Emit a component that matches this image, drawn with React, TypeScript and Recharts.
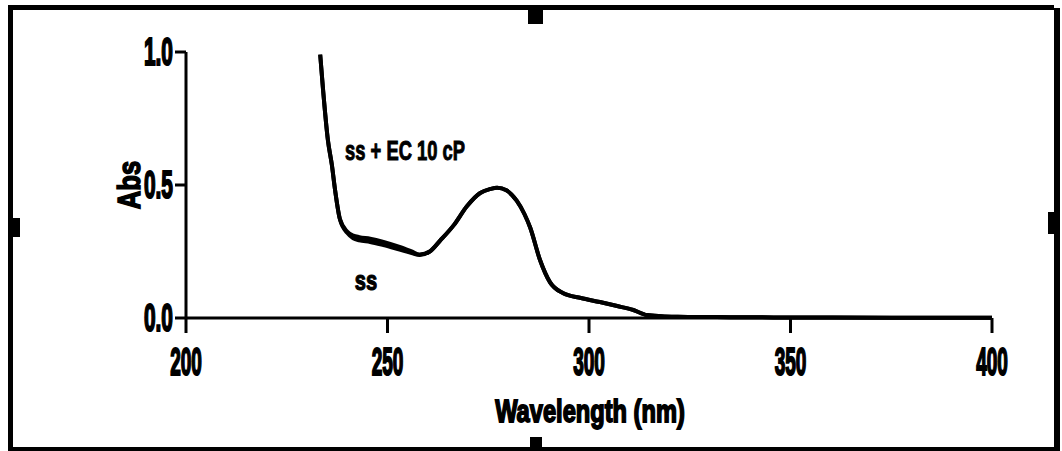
import React from "react";
import { Line, LineChart, XAxis, YAxis } from "recharts";

// Wavelength samples (nm).
const wavelengths = [
  233.3, 234, 235.2, 236.2, 237, 238.2, 240, 241.5, 243, 245.7, 249, 253, 256, 258, 260.5, 263,
  266.5, 269.7, 273, 275.5, 277.2, 279.5, 282.1, 284, 285.4, 287.8, 290.3, 293.5, 298, 302.7,
  307, 311, 314.4, 318, 322, 327, 335, 350, 375, 400,
];
const absSS = [
  0.99, 0.86, 0.67, 0.575, 0.48, 0.37, 0.32, 0.3, 0.292, 0.286, 0.274, 0.257, 0.244, 0.237, 0.25,
  0.29, 0.35, 0.42, 0.47, 0.485, 0.49, 0.48, 0.44, 0.39, 0.34, 0.22, 0.135, 0.094, 0.075, 0.06,
  0.045, 0.03, 0.011, 0.007, 0.005, 0.004, 0.003, 0.002, 0.001, 0.001,
];
const absSSEC = [
  0.99, 0.86, 0.67, 0.575, 0.48, 0.372, 0.325, 0.31, 0.304, 0.298, 0.286, 0.267, 0.25, 0.239, 0.25,
  0.29, 0.35, 0.42, 0.47, 0.485, 0.49, 0.48, 0.44, 0.39, 0.34, 0.22, 0.135, 0.094, 0.075, 0.06,
  0.045, 0.03, 0.011, 0.007, 0.005, 0.004, 0.003, 0.002, 0.001, 0.001,
];
const xTicks = [200, 250, 300, 350, 400];
const yTicks = [0, 0.5, 1];

const data = wavelengths.map((w, i) => ({ w, ss: absSS[i], ssec: absSSEC[i] }));

const FONT = "'Liberation Sans', Arial, sans-serif";

// Scanned figure uses a heavy condensed face; squeeze bold Liberation Sans and
// stroke it a little so it reads as thick as the photocopy.
function CondensedText({ x, y, children, size, sx, anchor = "middle", rotate = 0, weight = 1.6 }: any) {
  return (
    <text
      transform={`translate(${x},${y}) rotate(${rotate}) scale(${sx},1)`}
      textAnchor={anchor}
      fontFamily={FONT}
      fontWeight="bold"
      fontSize={size}
      fill="#000"
      stroke="#000"
      strokeWidth={weight}
    >
      {children}
    </text>
  );
}

function XTick({ x, y, payload }: any) {
  return (
    <CondensedText x={x} y={y + 40} size={38} sx={0.5} weight={2}>
      {payload.value}
    </CondensedText>
  );
}

function YTick({ x, y, payload }: any) {
  return (
    <CondensedText x={x} y={y + 13} size={38} sx={0.55} anchor="end" weight={2}>
      {payload.value.toFixed(1)}
    </CondensedText>
  );
}

const block = (s: React.CSSProperties): React.CSSProperties => ({
  position: "absolute",
  background: "#000",
  ...s,
});

export default function App() {
  return (
    <div
      style={{
        position: "fixed",
        left: 0,
        top: 0,
        width: 1062,
        height: 451,
        background: "#fff",
        overflow: "hidden",
      }}
    >
      <LineChart
        width={1062}
        height={451}
        data={data}
        margin={{ top: 52, right: 70, bottom: 83, left: 126 }}
      >
        <XAxis
          dataKey="w"
          type="number"
          domain={[200, 400]}
          ticks={xTicks}
          stroke="#000"
          strokeWidth={3}
          tickSize={15}
          tick={<XTick />}
          height={50}
        />
        <YAxis
          type="number"
          domain={[0, 1]}
          ticks={yTicks}
          stroke="#000"
          strokeWidth={3}
          tickSize={11}
          tick={<YTick />}
          width={60}
        />
        <Line
          dataKey="ss"
          type="monotone"
          stroke="#000"
          strokeWidth={4}
          dot={false}
          isAnimationActive={false}
        />
        <Line
          dataKey="ssec"
          type="monotone"
          stroke="#000"
          strokeWidth={4}
          dot={false}
          isAnimationActive={false}
        />
      </LineChart>

      <svg
        width={1062}
        height={451}
        style={{ position: "absolute", left: 0, top: 0, pointerEvents: "none" }}
      >
        <CondensedText x={405} y={160} size={27} sx={0.68} weight={1}>
          ss + EC 10 cP
        </CondensedText>
        <CondensedText x={366} y={290} size={28} sx={0.72} weight={1.2}>
          ss
        </CondensedText>
        <CondensedText x={590} y={422} size={32} sx={0.74} weight={1.8}>
          Wavelength (nm)
        </CondensedText>
        <CondensedText x={140} y={185} size={32} sx={0.8} rotate={-90} weight={1.6}>
          Abs
        </CondensedText>
      </svg>

      {/* scanned page frame */}
      <div style={block({ left: 8, top: 5, width: 1046, height: 5 })} />
      <div style={block({ left: 8, top: 5, width: 5, height: 446 })} />
      <div style={block({ left: 1054, top: 8, width: 6, height: 443 })} />
      <div style={block({ left: 8, top: 447, width: 1052, height: 4 })} />
      <div style={block({ left: 528, top: 8, width: 15, height: 16 })} />
      <div style={block({ left: 11, top: 218, width: 9, height: 19 })} />
      <div style={block({ left: 530, top: 437, width: 12, height: 14 })} />
      <div style={block({ left: 1048, top: 212, width: 8, height: 22 })} />
    </div>
  );
}
